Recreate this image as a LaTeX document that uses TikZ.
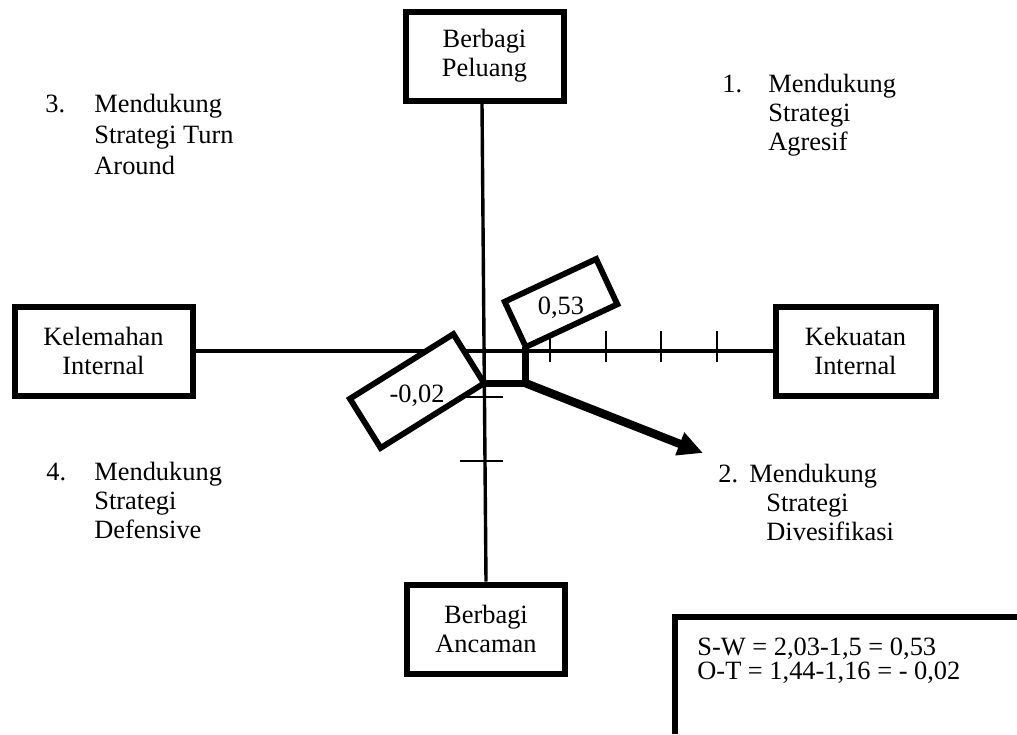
\documentclass[tikz,border=0pt]{standalone}
\usepackage{fontspec}
\setmainfont{Liberation Serif}
\usetikzlibrary{arrows.meta,calc}
\begin{document}
\begin{tikzpicture}[x=0.5pt,y=-0.5pt,
  txt/.style={font=\fontsize{13.2}{14.5}\selectfont, inner sep=0pt},
  mainbox/.style={draw, line width=3pt, fill=white, align=center, txt,
    minimum width=79pt, minimum height=44.5pt},
  valbox/.style={draw, line width=2.9pt, fill=white, outer sep=0pt},
  axisline/.style={line width=1.7pt},
  tickline/.style={line width=0.8pt},
  boldpath/.style={line width=3.6pt},
  arrowline/.style={line width=4.2pt, -{Triangle[length=12.5pt,width=11.5pt]}},
  framebox/.style={line width=3.2pt}]
\useasboundingbox (0,0) rectangle (1017,734);

% main boxes
\node[mainbox] (pel) at (484.5,56) {Berbagi\\Peluang};
\node[mainbox] (anc) at (486,629) {Berbagi\\Ancaman};
\node[mainbox, minimum width=89pt] (kel) at (103.5,351) {Kelemahan\\Internal};
\node[mainbox, minimum width=80pt] (kek) at (855.5,351) {Kekuatan\\Internal};

% axes
\draw[axisline] (kel.east) -- (kek.west);
\draw[axisline] ($(pel.south)+(-2.5,0)$) -- (anc.north);

% ticks
\foreach \x in {550,606,661,717} \draw[tickline] (\x,331) -- (\x,362);
\foreach \y in {397,461} \draw[tickline] (460,\y) -- (503,\y);

% value boxes
\node[valbox, rotate=25, minimum width=50.5pt, minimum height=25pt] (b53) at (561,303) {};
\node[txt] (t53) at ($(b53.center)+(0,5)$) {0,53};
\node[valbox, rotate=32, minimum width=61pt, minimum height=29pt] (b02) at (417,391) {};
\node[txt] (t02) at ($(b02.center)+(0,5)$) {-0,02};

% resultant path and arrow
\coordinate (bend) at (b53.south west |- b02.south east);
\coordinate (tip) at (703,453);
\draw[boldpath] (b02.south east) -- (bend) -- (b53.south west);
\draw[arrowline] (bend) -- (tip);

% quadrant labels
\node[txt, anchor=base west] (q1) at (722,92)
  {\begin{tabular}[t]{@{}l@{}l@{}}\makebox[23pt][l]{1.}&Mendukung\\&Strategi\\&Agresif\end{tabular}};
\node[inner sep=0pt, font=\fontsize{13.2}{15.5}\selectfont, anchor=base west] (q3) at (45,112)
  {\begin{tabular}[t]{@{}l@{}l@{}}\makebox[24.5pt][l]{3.}&Mendukung\\&Strategi Turn\\&Around\end{tabular}};
\node[txt, anchor=base west] (q2) at (718,482)
  {\begin{tabular}[t]{@{}l@{}l@{}}\makebox[15.5pt][l]{2.}&Mendukung\\&\hspace{8.5pt}Strategi\\&\hspace{8.5pt}Divesifikasi\end{tabular}};
\node[txt, anchor=base west] (q4) at (46,480)
  {\begin{tabular}[t]{@{}l@{}l@{}}\makebox[24pt][l]{4.}&Mendukung\\&Strategi\\&Defensive\end{tabular}};

% calculation frame
\coordinate (frbot) at (675,734);
\coordinate (frcorner) at (675,617);
\coordinate (frright) at (1017,617);
\draw[framebox] (frbot) -- (frcorner) -- (frright);
\node[inner sep=0pt, anchor=base west] (calc) at (697,655)
  {\fontsize{13.2}{11.5}\selectfont\begin{tabular}[t]{@{}l@{}}S-W = 2,03-1,5 = 0,53\\O-T = 1,44-1,16 = - 0,02\end{tabular}};
\end{tikzpicture}
\end{document}
